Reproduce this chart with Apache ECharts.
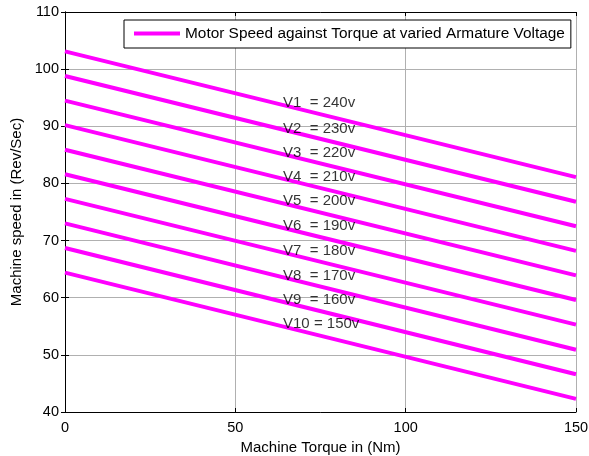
<!DOCTYPE html>
<html><head><meta charset="utf-8">
<script src="https://cdn.jsdelivr.net/npm/echarts@6/dist/echarts.min.js"></script>
<style>html,body{margin:0;padding:0;background:#fff}#c{width:589px;height:456px}</style>
</head><body><div id="c"></div>
<script>
const torque = [0, 150];
const speedStart = [103.1, 98.8, 94.5, 90.2, 85.9, 81.6, 77.3, 73.0, 68.7, 64.4];
const speedEnd = [81.1, 76.8, 72.5, 68.2, 63.9, 59.6, 55.3, 50.9, 46.6, 42.3];
const labelTexts = ['V1  = 240v','V2  = 230v','V3  = 220v','V4  = 210v','V5  = 200v','V6  = 190v','V7  = 180v','V8  = 170v','V9  = 160v','V10 = 150v'];
const labelX = [64,64,64,64,64,64,64,64,64,64];
const labelY = [94.1, 89.6, 85.4, 81.1, 76.9, 72.5, 68.2, 63.8, 59.6, 55.5];
const xTicks = [0, 50, 100, 150];
const yTicks = [40, 50, 60, 70, 80, 90, 100, 110];
const legendName = 'Motor Speed against Torque at varied Armature Voltage';
const FONT = 'Liberation Sans, Arial, sans-serif';
const MAG = '#ff00ff';

const series = speedStart.map((s, i) => ({
  type: 'line',
  name: i === 0 ? legendName : 'line' + (i + 1),
  data: [[torque[0], s], [torque[1], speedEnd[i]]],
  showSymbol: false,
  symbol: 'none',
  lineStyle: {color: MAG, width: 4},
  itemStyle: {color: MAG},
  silent: true,
  animation: false,
  z: 3
}));
series.push({
  type: 'scatter',
  name: 'labels',
  symbolSize: 0,
  data: labelY.map((y, i) => ({value: [labelX[i], y], label: {formatter: labelTexts[i]}})),
  label: {show: true, position: 'right', distance: 0, color: '#000', fontFamily: FONT, fontSize: 15},
  silent: true,
  animation: false,
  z: 5
});

const axisLine = {show: true, lineStyle: {color: '#000', width: 1}};
const axisTick = {show: true, inside: true, length: 4, lineStyle: {color: '#000'}};

const chart = echarts.init(document.getElementById('c'));
chart.setOption({
  animation: false,
  backgroundColor: '#fff',
  grid: {left: 65, right: 13, top: 12, bottom: 44, containLabel: false, outerBoundsMode: 'none'},
  legend: {
    data: [legendName],
    left: 124, top: 20,
    padding: [6, 6, 7, 10],
    itemWidth: 46, itemHeight: 4,
    icon: 'rect',
    borderColor: '#000', borderWidth: 1,
    backgroundColor: '#fff',
    textStyle: {fontFamily: FONT, fontSize: 15.4, color: '#000'}
  },
  xAxis: [{
    type: 'value', min: 0, max: 150, interval: 50,
    name: 'Machine Torque in (Nm)', nameLocation: 'middle', nameGap: 27,
    nameTextStyle: {fontFamily: FONT, fontSize: 15, color: '#000'},
    axisLabel: {fontFamily: FONT, fontSize: 14.5, color: '#000', margin: 8},
    axisLine: axisLine, axisTick: axisTick,
    splitLine: {show: true, lineStyle: {color: '#b0b0b0', width: 1}}
  }, {
    type: 'value', min: 0, max: 150, interval: 50, position: 'top',
    axisLabel: {show: false},
    axisLine: axisLine, axisTick: axisTick, splitLine: {show: false}
  }],
  yAxis: [{
    type: 'value', min: 40, max: 110, interval: 10,
    name: 'Machine speed in (Rev/Sec)', nameLocation: 'middle', nameGap: 39,
    nameTextStyle: {fontFamily: FONT, fontSize: 15, color: '#000'},
    axisLabel: {fontFamily: FONT, fontSize: 14.5, color: '#000', margin: 6},
    axisLine: axisLine, axisTick: axisTick,
    splitLine: {show: true, lineStyle: {color: '#b0b0b0', width: 1}}
  }, {
    type: 'value', min: 40, max: 110, interval: 10, position: 'right',
    axisLabel: {show: false},
    axisLine: axisLine, axisTick: axisTick, splitLine: {show: false}
  }],
  series: series
});
</script></body></html>
